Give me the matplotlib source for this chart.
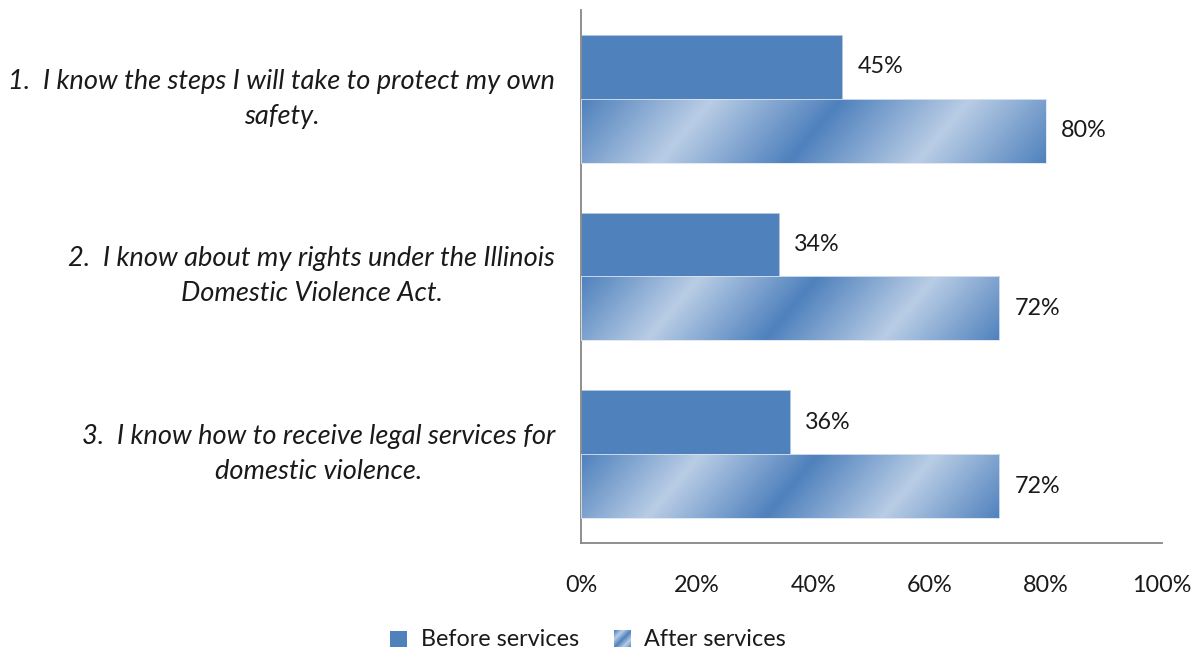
import numpy as np
import matplotlib
matplotlib.use("Agg")
import matplotlib.pyplot as plt
from matplotlib.colors import LinearSegmentedColormap
from matplotlib.patches import Rectangle
from matplotlib.image import BboxImage
from matplotlib.transforms import Bbox, TransformedBbox, blended_transform_factory
from matplotlib.legend_handler import HandlerBase

categories = [
    "1.  I know the steps I will take to protect my own\nsafety.",
    "2.  I know about my rights under the Illinois\nDomestic Violence Act.",
    "3.  I know how to receive legal services for\ndomestic violence.",
]
before = [45, 34, 36]
after = [80, 72, 72]
series_names = ["Before services", "After services"]
tick_values = [0, 20, 40, 60, 80, 100]

DARK = "#4F81BD"
LIGHT = "#B9CDE5"
stripe_cmap = LinearSegmentedColormap.from_list(
    "stripe", [(0.0, DARK), (0.25, LIGHT), (0.5, DARK), (0.75, LIGHT), (1.0, DARK)]
)

plt.rcParams["font.family"] = ["Lato", "DejaVu Sans"]
FS = 16.8
TXT = "#1a1a1a"

W, H, DPI = 12.02, 6.52, 100
fig = plt.figure(figsize=(W, H), dpi=DPI)
ax = fig.add_axes([581 / 1202, 1 - 543 / 652, 581 / 1202, 533 / 652])

n = len(categories)
y = np.arange(n)
bh = 0.36
px_x = 581 / 100.0   # pixels per percent point
px_y = 533 / 3.0     # pixels per category slot


def stripe_array(w_px, h_px, slant=0.84):
    xs = np.arange(w_px)[None, :]
    ys = np.arange(h_px)[:, None]  # rows from visual top
    s = (xs + slant * ys) / (w_px + slant * h_px)
    return stripe_cmap(s)


ax.barh(y - bh / 2, before, height=bh, color=DARK, edgecolor=LIGHT, linewidth=0.4, zorder=2)

for yi, v in zip(y, after):
    top = yi
    bottom = yi + bh
    w_px = int(round(v * px_x))
    h_px = int(round(bh * px_y))
    ax.imshow(stripe_array(w_px, h_px), extent=(0, v, bottom, top), origin="upper",
              aspect="auto", interpolation="bilinear", zorder=2)
    ax.add_patch(Rectangle((0, top), v, bh, facecolor="none", edgecolor="#DCE6F2",
                           linewidth=0.6, zorder=3))

for yi, v in zip(y, before):
    ax.text(v + 15 / px_x, yi - bh / 2, f"{v}%", va="center", ha="left", fontsize=FS, color=TXT)
for yi, v in zip(y, after):
    ax.text(v + 15 / px_x, yi + bh / 2, f"{v}%", va="center", ha="left", fontsize=FS, color=TXT)

ax.set_xlim(0, 100)
ax.set_ylim(n - 0.5, -0.5)
ax.set_xticks(tick_values)
ax.set_xticklabels([f"{t}%" for t in tick_values], fontsize=FS, color=TXT)
ax.tick_params(axis="x", length=0, pad=23)
ax.set_yticks([])
for side in ["top", "right"]:
    ax.spines[side].set_visible(False)
for side in ["left", "bottom"]:
    ax.spines[side].set_color("#868686")
    ax.spines[side].set_linewidth(1.3)

trans = blended_transform_factory(ax.transAxes, ax.transData)
for yi, label in zip(y, categories):
    ax.text(-26 / 581, yi, label, transform=trans, ha="right", va="center",
            multialignment="center", fontsize=19.6, style="italic", color=TXT,
            linespacing=1.5)


class StripeHandler(HandlerBase):
    def create_artists(self, legend, orig_handle, xdescent, ydescent, width, height,
                       fontsize, trans):
        side = height * 1.0
        x0 = xdescent + width - side
        bb = TransformedBbox(Bbox.from_bounds(x0, -ydescent - 0.03 * height, side, side), trans)
        img = BboxImage(bb, interpolation="bilinear")
        img.set_data(stripe_array(20, 20, slant=1.0))
        return [img]


class SquareHandler(HandlerBase):
    def create_artists(self, legend, orig_handle, xdescent, ydescent, width, height,
                       fontsize, trans):
        side = height * 1.0
        x0 = xdescent + width - side
        r = Rectangle((x0, -ydescent - 0.03 * height), side, side, facecolor=DARK,
                      edgecolor="none", transform=trans)
        return [r]


h_before = Rectangle((0, 0), 1, 1)
h_after = Rectangle((0, 0), 1, 1)
fig.legend([h_before, h_after], series_names, loc="center", bbox_to_anchor=(588 / 1202, 1 - 640 / 652),
           ncol=2, frameon=False, fontsize=FS, handlelength=0.7, handletextpad=0.6,
           columnspacing=1.5, labelcolor=TXT,
           handler_map={h_before: SquareHandler(), h_after: StripeHandler()})

fig.savefig("out.png", dpi=DPI)
